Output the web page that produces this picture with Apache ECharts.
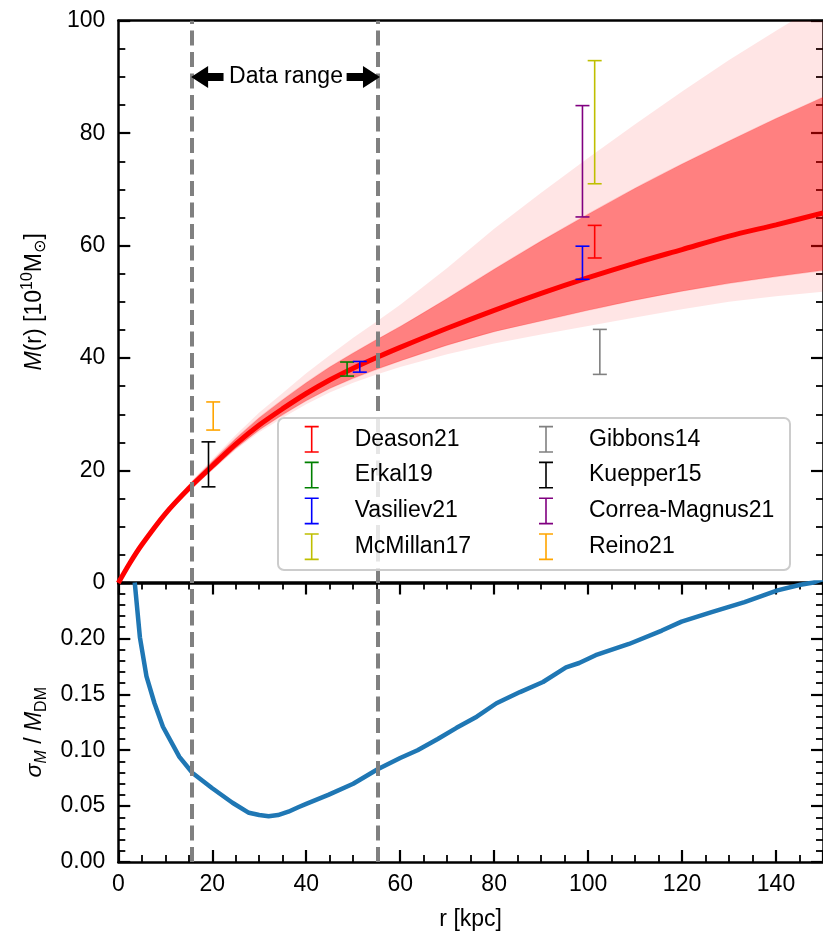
<!DOCTYPE html>
<html>
<head>
<meta charset="utf-8">
<script src="https://cdn.jsdelivr.net/npm/echarts@6/dist/echarts.min.js"></script>
<style>
  html, body { margin: 0; padding: 0; background: #ffffff; }
  #chart { width: 823px; height: 936px; }
</style>
</head>
<body>
<div id="chart"></div>
<script>
// Radius grid (kpc) for the enclosed-mass profile and its uncertainty bands
const radius = [0, 2.5, 5, 10, 15, 20, 25, 30, 35, 40, 45, 50, 55, 60, 70, 80, 90, 100, 110, 120, 130, 140, 150];
// Median M(r) in 10^10 Msun
const massMedian = [0, 3.6, 6.8, 12.3, 16.8, 20.8, 24.7, 28.1, 31.0, 33.7, 36.1, 38.2, 40.1, 41.9, 45.3, 48.5, 51.5, 54.3, 56.9, 59.3, 61.7, 63.7, 65.8];
// 1-sigma band
const mass1sLow = [0, 3.55, 6.65, 12.0, 16.35, 20.2, 23.95, 27.2, 29.9, 32.4, 34.6, 36.4, 38.0, 39.5, 42.3, 44.7, 46.6, 48.5, 50.3, 51.9, 53.3, 54.5, 55.6];
const mass1sHigh = [0, 3.65, 7.0, 12.7, 17.4, 21.6, 25.7, 29.4, 32.6, 35.6, 38.4, 40.9, 43.3, 45.6, 50.6, 55.8, 60.8, 65.6, 70.2, 74.5, 78.6, 82.6, 86.4];
// 2-sigma band
const mass2sLow = [0, 3.5, 6.6, 11.9, 16.2, 20.0, 23.7, 26.8, 29.4, 31.8, 33.9, 35.6, 37.1, 38.4, 40.7, 42.6, 44.2, 45.7, 47.2, 48.7, 50.0, 51.0, 51.8];
const mass2sHigh = [0, 3.7, 7.1, 12.8, 17.6, 22.0, 26.3, 30.3, 33.8, 37.3, 40.5, 43.6, 46.5, 49.5, 56.0, 63.0, 69.4, 75.6, 81.6, 87.4, 93.0, 98.2, 103.3];

// Fractional uncertainty sigma_M / M_DM
const sigmaRadius = [3.5, 4.6, 6.0, 7.7, 9.5, 13.0, 15.8, 20, 24.3, 27.8, 30, 32, 34, 36.2, 38.3, 40, 44.7, 50, 55.2, 60, 63.7, 68, 72, 76.3, 80.5, 85.5, 90.4, 95.3, 98.1, 101.6, 108.7, 115.7, 119.9, 126.3, 133.3, 140.3, 145.2, 148, 150];
const sigmaFrac = [0.25, 0.201, 0.166, 0.142, 0.121, 0.094, 0.0796, 0.066, 0.053, 0.044, 0.042, 0.041, 0.042, 0.045, 0.049, 0.052, 0.060, 0.070, 0.083, 0.093, 0.100, 0.110, 0.120, 0.130, 0.142, 0.152, 0.161, 0.174, 0.178, 0.185, 0.195, 0.207, 0.215, 0.2235, 0.2325, 0.243, 0.248, 0.25, 0.253];

// Literature measurements: [r, lower, upper]
const deason21 = [[101.4, 57.8, 63.6]];
const erkal19 = [[48.7, 36.8, 39.3]];
const vasiliev21 = [[51.4, 37.5, 39.4], [98.8, 54.0, 59.9]];
const mcmillan17 = [[101.4, 71.0, 92.9]];
const gibbons14 = [[102.5, 37.1, 45.1]];
const kuepper15 = [[19.2, 17.1, 25.1]];
const correaMagnus21 = [[98.8, 65.1, 84.9]];
const reino21 = [[20.2, 27.2, 32.2]];

// Radial extent of the tracer data
const dataRangeEdges = [15.7, 55.2];

const xTicks = [0, 20, 40, 60, 80, 100, 120, 140];

const FONT = 'Liberation Sans, Arial, Helvetica, sans-serif';

const pairs = (xs, ys) => xs.map((x, i) => [x, ys[i]]);

const measurements = [
  { name: 'Deason21', color: '#ff0000', data: deason21 },
  { name: 'Erkal19', color: '#008000', data: erkal19 },
  { name: 'Vasiliev21', color: '#0000ff', data: vasiliev21 },
  { name: 'McMillan17', color: '#bfbf00', data: mcmillan17 },
  { name: 'Gibbons14', color: '#808080', data: gibbons14 },
  { name: 'Kuepper15', color: '#000000', data: kuepper15 },
  { name: 'Correa-Magnus21', color: '#800080', data: correaMagnus21 },
  { name: 'Reino21', color: '#ffa500', data: reino21 }
];

// Error-bar glyph used in the legend
const errIcon = 'path://M0,0 H14 V1.6 H7.8 V25.4 H14 V27 H0 V25.4 H6.2 V1.6 H0 Z';

function errorBarSeries(m) {
  return {
    name: m.name,
    type: 'custom',
    xAxisIndex: 0,
    yAxisIndex: 0,
    z: 5,
    itemStyle: { color: m.color },
    dimensions: ['r', 'lo', 'hi'],
    encode: { x: 0, y: [1, 2] },
    data: m.data,
    renderItem: function (params, api) {
      const x = api.value(0);
      const pLo = api.coord([x, api.value(1)]);
      const pHi = api.coord([x, api.value(2)]);
      const st = { stroke: m.color, lineWidth: 1.6, fill: null };
      const cap = 7;
      return {
        type: 'group',
        children: [
          { type: 'line', shape: { x1: pLo[0], y1: pLo[1], x2: pHi[0], y2: pHi[1] }, style: st },
          { type: 'line', shape: { x1: pLo[0] - cap, y1: pLo[1], x2: pLo[0] + cap, y2: pLo[1] }, style: st },
          { type: 'line', shape: { x1: pHi[0] - cap, y1: pHi[1], x2: pHi[0] + cap, y2: pHi[1] }, style: st }
        ]
      };
    }
  };
}

// Filled region between two curves sampled on the same radius grid
function bandSeries(lo, hi, fill, stroke, z) {
  return {
    type: 'custom',
    xAxisIndex: 0,
    yAxisIndex: 0,
    clip: true,
    silent: true,
    z: z,
    data: [[0, 0]],
    renderItem: function (params, api) {
      const upper = radius.map((r, i) => api.coord([r, hi[i]]));
      const lower = radius.map((r, i) => api.coord([r, lo[i]])).reverse();
      const cs = params.coordSys;
      return {
        type: 'group',
        clipPath: { type: 'rect', shape: { x: cs.x, y: cs.y, width: cs.width, height: cs.height } },
        children: [
          { type: 'polygon', shape: { points: upper.concat(lower) }, style: { fill: fill, lineWidth: 0 } },
          { type: 'polyline', shape: { points: upper, smooth: 0.3 }, style: { fill: null, stroke: stroke || 'none', lineWidth: 1.2 } },
          { type: 'polyline', shape: { points: lower, smooth: 0.3 }, style: { fill: null, stroke: stroke || 'none', lineWidth: 1.2 } }
        ]
      };
    }
  };
}

const AXIS_LINE = { show: true, onZero: false, lineStyle: { color: '#000', width: 2.5 } };
const TICK = (len) => ({ show: true, inside: true, length: len, lineStyle: { color: '#000', width: 2.2 } });
const MINOR = (n) => ({ show: true, splitNumber: n, length: 7, lineStyle: { color: '#000', width: 1.8 } });
const LABEL = { color: '#000', fontSize: 23, fontFamily: FONT };

const grids = [
  { left: 118.3, top: 20.7, width: 710.7, height: 562.3 },
  { left: 118.3, top: 582.5, width: 710.7, height: 280.2 }
];

const dashedLine = {
  silent: true,
  symbol: 'none',
  label: { show: false },
  lineStyle: { color: '#808080', width: 4, type: [15, 6.5] },
  data: dataRangeEdges.map(v => ({ xAxis: v }))
};

const legendText = {
  color: '#000', fontSize: 23, fontFamily: FONT, lineHeight: 27,
  padding: [0, 0, 0, 31]
};

function legendBlock(names, left) {
  return {
    orient: 'vertical',
    left: left,
    top: 425.8,
    itemWidth: 14,
    itemHeight: 27,
    itemGap: 8.8,
    selectedMode: false,
    z: 10,
    padding: 0,
    textStyle: legendText,
    data: names.map(n => {
      const m = measurements.find(q => q.name === n);
      return { name: n, icon: errIcon, itemStyle: { color: m.color, borderWidth: 0 } };
    })
  };
}

const option = {
  backgroundColor: '#ffffff',
  animation: false,
  textStyle: { fontFamily: FONT },
  grid: grids,
  legend: [
    legendBlock(['Deason21', 'Erkal19', 'Vasiliev21', 'McMillan17'], 304.7),
    legendBlock(['Gibbons14', 'Kuepper15', 'Correa-Magnus21', 'Reino21'], 539)
  ],
  xAxis: [
    { type: 'value', gridIndex: 0, min: 0, max: 150, interval: 20, position: 'bottom',
      axisLine: AXIS_LINE, axisTick: { show: false }, axisLabel: { show: false }, splitLine: { show: false } },
    { type: 'value', gridIndex: 0, min: 0, max: 150, interval: 20, position: 'top',
      axisLine: AXIS_LINE, axisTick: { show: false }, axisLabel: { show: false }, splitLine: { show: false } },
    { type: 'value', gridIndex: 1, min: 0, max: 150, interval: 20, position: 'bottom',
      axisLine: AXIS_LINE, axisTick: TICK(12), minorTick: MINOR(4),
      axisLabel: Object.assign({ margin: 11, showMaxLabel: false,
        formatter: v => (xTicks.indexOf(v) >= 0 ? String(v) : '') }, LABEL),
      splitLine: { show: false },
      name: 'r [kpc]', nameLocation: 'middle', nameGap: 43,
      nameTextStyle: { color: '#000', fontSize: 23, fontFamily: FONT, lineHeight: 30 } },
    { type: 'value', gridIndex: 1, min: 0, max: 150, interval: 20, position: 'top',
      axisLine: AXIS_LINE, axisTick: TICK(12), minorTick: MINOR(4), axisLabel: { show: false }, splitLine: { show: false } }
  ],
  yAxis: [
    { type: 'value', gridIndex: 0, min: 0, max: 100, interval: 20, position: 'left',
      axisLine: AXIS_LINE, axisTick: TICK(12), minorTick: MINOR(4),
      axisLabel: Object.assign({ margin: 13 }, LABEL), splitLine: { show: false },
      name: '{it|M}{n|(r) [10}{sup|10}{n|M}{sub|⊙}{n|]}',
      nameLocation: 'middle', nameGap: 69, nameRotate: 90,
      nameTextStyle: {
        color: '#000', fontFamily: FONT,
        rich: {
          n: { fontSize: 23, lineHeight: 30, fontFamily: FONT, color: '#000' },
          it: { fontSize: 23, lineHeight: 30, fontStyle: 'italic', fontFamily: FONT, color: '#000' },
          sup: { fontSize: 16, lineHeight: 16, verticalAlign: 'top', fontFamily: FONT, color: '#000' },
          sub: { fontSize: 16, lineHeight: 16, verticalAlign: 'bottom', fontFamily: 'DejaVu Sans', color: '#000' }
        }
      } },
    { type: 'value', gridIndex: 0, min: 0, max: 100, interval: 20, position: 'right',
      axisLine: AXIS_LINE, axisTick: TICK(12), minorTick: MINOR(4), axisLabel: { show: false }, splitLine: { show: false } },
    { type: 'value', gridIndex: 1, min: 0, max: 0.25, interval: 0.05, position: 'left',
      axisLine: AXIS_LINE, axisTick: TICK(12), minorTick: MINOR(5),
      axisLabel: Object.assign({ margin: 13, showMaxLabel: false, formatter: v => v.toFixed(2) }, LABEL),
      splitLine: { show: false },
      name: '{it|σ}{itsub|M}{n| / }{it|M}{sub|DM}',
      nameLocation: 'middle', nameGap: 69, nameRotate: 90,
      nameTextStyle: {
        color: '#000', fontFamily: FONT, padding: [0, 20, 0, 0],
        rich: {
          n: { fontSize: 23, lineHeight: 30, fontFamily: FONT, color: '#000' },
          it: { fontSize: 23, lineHeight: 30, fontStyle: 'italic', fontFamily: FONT, color: '#000' },
          itsub: { fontSize: 16, lineHeight: 16, verticalAlign: 'bottom', fontStyle: 'italic', fontFamily: FONT, color: '#000' },
          sub: { fontSize: 16, lineHeight: 16, verticalAlign: 'bottom', fontFamily: FONT, color: '#000' }
        }
      } },
    { type: 'value', gridIndex: 1, min: 0, max: 0.25, interval: 0.05, position: 'right',
      axisLine: AXIS_LINE, axisTick: TICK(12), minorTick: MINOR(5), axisLabel: { show: false }, splitLine: { show: false } }
  ],
  series: [
    bandSeries(mass2sLow, mass2sHigh, 'rgba(255,0,0,0.1)', null, 1),
    bandSeries(mass1sLow, mass1sHigh, 'rgba(255,0,0,0.44)', 'rgba(255,0,0,0.15)', 2),
    // median profile
    { type: 'line', xAxisIndex: 0, yAxisIndex: 0, symbol: 'none', silent: true, smooth: 0.3,
      lineStyle: { color: '#ff0000', width: 5 }, data: pairs(radius, massMedian), z: 3 },
    // data-range markers, upper panel
    { type: 'line', xAxisIndex: 0, yAxisIndex: 0, data: [], z: 6, markLine: dashedLine },
    // fractional uncertainty
    { type: 'line', xAxisIndex: 2, yAxisIndex: 2, symbol: 'none', silent: true,
      lineStyle: { color: '#1f77b4', width: 4.5 }, data: pairs(sigmaRadius, sigmaFrac), z: 3 },
    // data-range markers, lower panel
    { type: 'line', xAxisIndex: 2, yAxisIndex: 2, data: [], z: 6, markLine: dashedLine }
  ].concat(measurements.map(errorBarSeries))
};

const chart = echarts.init(document.getElementById('chart'), null, { renderer: 'canvas' });
chart.setOption(option);

// "Data range" annotation with arrows pointing at the two dashed lines
const px = (r, m) => chart.convertToPixel({ gridIndex: 0 }, [r, m]);
const annY = 90;
const textPos = px(35.7, annY);
function arrow(fromR, toR) {
  const a = px(fromR, annY), b = px(toR, annY);
  const dir = b[0] > a[0] ? 1 : -1;
  const shaft = 4, head = 11, headLen = 17;
  const base = b[0] - dir * headLen;
  return {
    type: 'polygon', z: 8, silent: true,
    shape: { points: [
      [a[0], a[1] - shaft], [base, a[1] - shaft], [base, a[1] - head], [b[0], b[1]],
      [base, a[1] + head], [base, a[1] + shaft], [a[0], a[1] + shaft]
    ] },
    style: { fill: '#000' }
  };
}
chart.setOption({
  graphic: [
    // legend frame
    { type: 'rect', z: 7, silent: true,
      shape: { x: 278, y: 418, width: 512, height: 152, r: 6 },
      style: { fill: 'rgba(255,255,255,0.8)', stroke: '#cccccc', lineWidth: 2 } },
    arrow(22.4, dataRangeEdges[0] - 0.2),
    arrow(48.6, dataRangeEdges[1] + 0.5),
    { type: 'text', z: 9, silent: true, x: textPos[0], y: textPos[1],
      style: { text: 'Data range', fill: '#000', font: '23px ' + FONT, align: 'center', verticalAlign: 'middle' } }
  ]
});
</script>
</body>
</html>
